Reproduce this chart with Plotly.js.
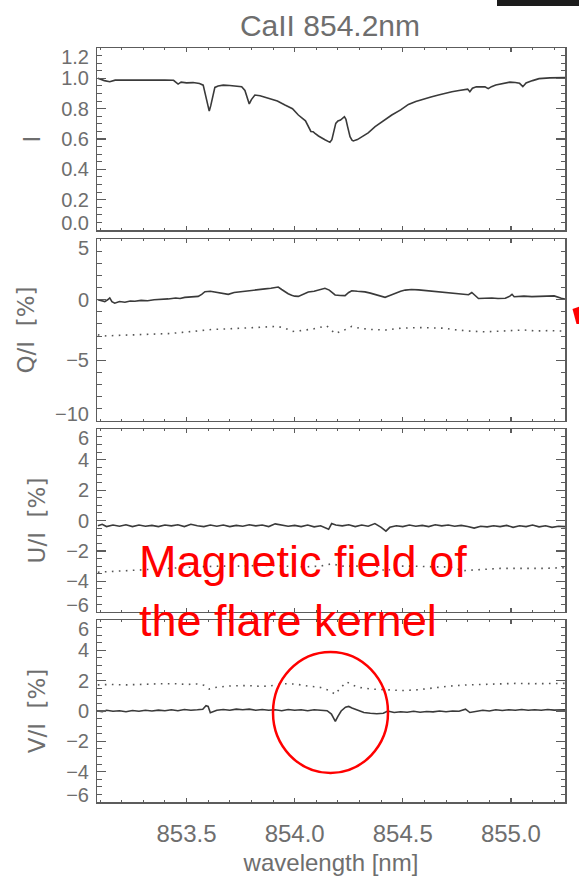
<!DOCTYPE html>
<html><head><meta charset="utf-8">
<script src="https://cdn.plot.ly/plotly-3.0.1.min.js"></script>
<style>html,body{margin:0;padding:0;background:#fff;}#chart{width:579px;height:883px;}</style>
</head><body><div id="chart"></div>
<script>
// ---------- data ----------
const lamI = [853.09,853.10,853.12,853.145,853.17,853.20,853.25,853.30,853.35,853.40,853.44,853.461,853.475,853.50,853.53,853.56,853.577,853.59,853.597,853.605,853.612,853.62,853.631,853.646,853.67,853.70,853.73,853.755,853.77,853.78,853.79,853.80,853.816,853.84,853.878,853.92,853.955,853.99,854.017,854.05,854.075,854.085,854.094,854.11,854.14,854.163,854.172,854.182,854.19,854.20,854.212,854.23,854.237,854.245,854.256,854.265,854.271,854.29,854.31,854.34,854.372,854.41,854.449,854.49,854.526,854.56,854.603,854.63,854.665,854.70,854.727,854.76,854.788,854.80,854.81,854.822,854.84,854.86,854.88,854.895,854.91,854.93,854.96,854.995,855.02,855.04,855.055,855.07,855.10,855.13,855.18,855.25];
const intensityI = [1.000,0.995,0.985,0.978,0.988,0.989,0.990,0.990,0.989,0.988,0.987,0.962,0.975,0.970,0.972,0.966,0.955,0.880,0.820,0.784,0.820,0.880,0.940,0.950,0.955,0.953,0.950,0.945,0.920,0.870,0.831,0.860,0.890,0.885,0.868,0.850,0.824,0.800,0.758,0.720,0.650,0.648,0.637,0.620,0.595,0.578,0.595,0.660,0.703,0.719,0.725,0.747,0.730,0.680,0.615,0.592,0.587,0.596,0.615,0.640,0.681,0.720,0.758,0.792,0.828,0.848,0.868,0.877,0.890,0.903,0.912,0.920,0.927,0.929,0.912,0.935,0.945,0.945,0.944,0.932,0.945,0.956,0.965,0.975,0.973,0.967,0.945,0.970,0.985,0.998,1.003,1.005];

const lamQ = [853.09,853.105,853.122,853.135,853.145,853.155,853.168,853.19,853.215,853.24,853.261,853.29,853.32,853.35,853.385,853.415,853.45,853.47,853.492,853.52,853.554,853.57,853.585,853.61,853.646,853.67,853.693,853.72,853.755,853.78,853.801,853.83,853.863,853.89,853.924,853.94,853.955,853.97,853.986,854.0,854.017,854.04,854.063,854.09,854.115,854.14,854.16,854.187,854.21,854.233,854.25,854.264,854.29,854.325,854.35,854.372,854.395,854.418,854.44,854.464,854.49,854.511,854.54,854.573,854.61,854.65,854.69,854.727,854.76,854.79,854.804,854.819,854.835,854.85,854.88,854.912,854.94,854.974,854.995,855.005,855.015,855.029,855.06,855.097,855.14,855.18,855.2,855.233,855.25];
const qSolid = [0.0,-0.05,-0.15,0.0,0.15,-0.15,-0.28,-0.15,-0.2,-0.1,-0.12,-0.05,-0.08,0.0,0.02,0.07,0.15,0.1,0.2,0.25,0.28,0.45,0.67,0.7,0.6,0.55,0.45,0.6,0.68,0.75,0.8,0.88,0.9,0.95,1.05,0.85,0.65,0.5,0.38,0.3,0.28,0.5,0.65,0.7,0.8,0.95,0.8,0.4,0.35,0.34,0.6,0.75,0.7,0.65,0.55,0.45,0.35,0.2,0.35,0.55,0.7,0.8,0.85,0.82,0.75,0.68,0.62,0.55,0.5,0.4,0.42,0.6,0.35,0.1,0.12,0.15,0.1,0.12,0.3,0.45,0.25,0.28,0.3,0.26,0.3,0.35,0.32,0.12,0.05];
const lamQd = [853.09,853.13,853.17,853.22,853.261,853.33,853.415,853.48,853.554,853.62,853.70,853.80,853.86,853.92,853.955,853.99,854.03,854.09,854.148,854.187,854.23,854.264,854.30,854.35,854.42,854.49,854.573,854.65,854.69,854.727,854.80,854.88,854.94,855.0,855.06,855.12,855.18,855.25];
const qDotted = [-2.9,-3.0,-2.95,-2.95,-2.9,-2.85,-2.8,-2.7,-2.58,-2.45,-2.4,-2.3,-2.22,-2.2,-2.35,-2.62,-2.55,-2.4,-2.15,-2.8,-2.5,-2.2,-2.35,-2.45,-2.5,-2.35,-2.3,-2.3,-2.35,-2.45,-2.58,-2.65,-2.6,-2.58,-2.5,-2.58,-2.55,-2.6];

const lamU = [853.09,853.11,853.13,853.16,853.19,853.22,853.25,853.28,853.31,853.34,853.37,853.40,853.43,853.46,853.49,853.52,853.55,853.58,853.61,853.64,853.67,853.70,853.73,853.76,853.79,853.82,853.85,853.88,853.91,853.94,853.97,854.00,854.03,854.06,854.09,854.12,854.157,854.171,854.19,854.22,854.25,854.28,854.31,854.34,854.371,854.40,854.422,854.44,854.47,854.50,854.53,854.56,854.59,854.62,854.65,854.68,854.71,854.74,854.77,854.80,854.83,854.86,854.89,854.92,854.95,854.98,855.01,855.04,855.07,855.10,855.13,855.16,855.19,855.22,855.25];
const uSolid = [-0.35,-0.25,-0.4,-0.3,-0.38,-0.28,-0.4,-0.3,-0.38,-0.32,-0.4,-0.3,-0.35,-0.28,-0.4,-0.25,-0.35,-0.4,-0.3,-0.38,-0.3,-0.4,-0.32,-0.38,-0.28,-0.35,-0.3,-0.4,-0.22,-0.3,-0.38,-0.32,-0.4,-0.3,-0.42,-0.35,-0.58,-0.2,-0.3,-0.35,-0.28,-0.4,-0.3,-0.38,-0.2,-0.45,-0.7,-0.45,-0.35,-0.4,-0.3,-0.38,-0.32,-0.4,-0.28,-0.35,-0.3,-0.38,-0.32,-0.4,-0.5,-0.38,-0.42,-0.35,-0.4,-0.32,-0.45,-0.35,-0.4,-0.3,-0.42,-0.35,-0.45,-0.38,-0.4];
const lamUd = [853.09,853.15,853.25,853.35,853.45,853.55,853.65,853.75,853.85,853.95,854.05,854.12,854.17,854.22,854.30,854.36,854.42,854.48,854.55,854.65,854.72,854.78,854.85,854.95,855.05,855.15,855.25];
const uDotted = [-3.4,-3.35,-3.3,-3.2,-3.1,-3.05,-3.0,-3.0,-2.95,-3.0,-3.05,-3.0,-2.85,-3.0,-3.0,-2.85,-3.35,-3.0,-3.0,-3.05,-3.05,-3.3,-3.25,-3.15,-3.15,-3.15,-3.1];

const lamV = [853.09,853.11,853.13,853.16,853.19,853.22,853.25,853.28,853.31,853.34,853.37,853.40,853.43,853.46,853.49,853.52,853.55,853.575,853.59,853.60,853.61,853.62,853.64,853.67,853.70,853.73,853.76,853.79,853.82,853.85,853.88,853.91,853.94,853.97,854.00,854.03,854.06,854.09,854.12,854.15,854.17,854.188,854.20,854.215,854.235,854.25,854.265,854.29,854.32,854.35,854.38,854.41,854.43,854.46,854.49,854.52,854.55,854.58,854.61,854.64,854.67,854.70,854.73,854.76,854.79,854.81,854.84,854.87,854.90,854.93,854.96,854.99,855.02,855.05,855.08,855.11,855.14,855.17,855.20,855.25];
const vSolid = [0.0,-0.05,0.05,-0.02,0.02,-0.05,0.03,-0.02,0.05,0.0,0.06,0.02,0.08,0.02,0.1,0.05,0.08,0.12,0.35,0.3,-0.12,-0.05,0.05,0.1,0.05,0.12,0.08,0.12,0.05,0.1,0.05,0.08,0.02,0.1,0.05,0.08,0.02,0.08,0.05,0.02,-0.2,-0.69,-0.35,0.0,0.25,0.3,0.2,0.05,-0.1,-0.15,-0.18,-0.15,0.0,-0.1,-0.05,-0.08,-0.02,-0.08,-0.03,-0.06,0.0,-0.05,0.0,-0.02,0.12,-0.1,0.0,0.05,0.0,0.08,0.03,0.08,0.05,0.1,0.05,0.08,0.05,0.1,0.06,0.08];
const lamVd = [853.09,853.15,853.22,853.30,853.38,853.45,853.50,853.55,853.58,853.605,853.63,853.70,853.78,853.85,853.90,853.95,854.00,854.06,854.12,854.16,854.188,854.21,854.24,854.27,854.30,854.35,854.42,854.50,854.57,854.65,854.72,854.80,854.88,854.95,855.02,855.10,855.18,855.25];
const vDotted = [1.72,1.75,1.72,1.78,1.8,1.8,1.75,1.78,1.7,1.45,1.55,1.65,1.68,1.62,1.68,1.8,1.78,1.65,1.55,1.35,1.1,1.5,1.92,1.7,1.55,1.45,1.4,1.35,1.4,1.55,1.65,1.72,1.75,1.8,1.82,1.8,1.82,1.82];

// axis ranges and tick labels
const xRange = [853.086, 855.25];
const xTickVals = [853.5, 854.0, 854.5, 855.0];
const xTickText = ['853.5', '854.0', '854.5', '855.0'];
const yRanges = [[0, 1.2], [-10, 5], [-6, 6], [-6, 6]];
const yTickVals = [[0, 0.2, 0.4, 0.6, 0.8, 1.0, 1.2], [-10, -5, 0, 5], [-6, -4, -2, 0, 2, 4, 6], [-6, -4, -2, 0, 2, 4, 6]];
const yTickText = [['0.0','0.2','0.4','0.6','0.8','1.0','1.2'], ['\u221210','\u22125','0','5'], ['\u22126','\u22124','\u22122','0','2','4','6'], ['\u22126','\u22124','\u22122','0','2','4','6']];
const yMajor = [0.2, 5, 2, 2];
const yMinor = [0.05, 1, 0.5, 0.5];
const yTitles = ['I', 'Q/I\u00a0\u00a0[%]', 'U/I\u00a0\u00a0[%]', 'V/I\u00a0\u00a0[%]'];

// ---------- layout geometry ----------
const W = 579, H = 883;
const M = {l: 97, r: 14, t: 48, b: 81};
const plotH = H - M.t - M.b, plotW = W - M.l - M.r;
const panelPx = [[48, 230], [239.3, 420.7], [429.3, 611.7], [620, 802]];
const domains = panelPx.map(([top, bot]) => [(H - M.b - bot) / plotH, (H - M.b - top) / plotH]);
const px2x = p => (p - M.l) / plotW;
const px2y = p => (H - M.b - p) / plotH;

const axisColor = '#5c5c5c';
const textColor = '#6e6e6e';
const fam = 'Liberation Sans, Arial, sans-serif';

// end labels are nudged inside the frame, as in the reference
function labelPos(vals, range, dom) {
  const ppu = (dom[1] - dom[0]) * plotH / (range[1] - range[0]);
  return vals.map(v => v >= range[1] - 1e-9 ? v - 9 / ppu : (v <= range[0] + 1e-9 ? v + 7 / ppu : v));
}

const layout = {
  width: W, height: H, margin: M,
  paper_bgcolor: '#fff', plot_bgcolor: 'rgba(0,0,0,0)', showlegend: false,
  title: {text: 'CaII 854.2nm', font: {family: fam, size: 30, color: textColor},
          x: px2x(330) , xref: 'paper', xanchor: 'center', y: 1 - 25 / H, yref: 'container', yanchor: 'middle'},
  annotations: [{
    xref: 'paper', yref: 'paper', x: px2x(137), y: px2y(534), xanchor: 'left', yanchor: 'top',
    text: 'Magnetic field of<br>the flare kernel', align: 'left', showarrow: false,
    font: {family: fam, size: 45, color: '#ff0000'}
  }],
  shapes: [
    {type: 'circle', xref: 'paper', yref: 'paper', x0: px2x(273), x1: px2x(388), y0: px2y(773), y1: px2y(652),
     line: {color: '#ff0000', width: 2.5}},
    {type: 'rect', xref: 'paper', yref: 'paper', x0: px2x(497), x1: px2x(582), y0: px2y(6), y1: px2y(-3),
     fillcolor: '#1c1c1c', line: {width: 0}},
    {type: 'path', xref: 'paper', yref: 'paper',
     path: `M ${px2x(572.5)} ${px2y(309)} L ${px2x(581)} ${px2y(306)} L ${px2x(581)} ${px2y(324)} L ${px2x(576.5)} ${px2y(324)} Z`,
     fillcolor: '#ff0000', line: {width: 0}}
  ]
};

const traces = [];
for (let i = 0; i < 4; i++) {
  const xs = i === 0 ? '' : String(i + 1);
  const ys = xs;
  layout['xaxis' + xs] = {
    domain: [0, 1], anchor: 'y' + ys, range: xRange,
    showline: true, linecolor: axisColor, linewidth: 1.5, mirror: 'ticks',
    ticks: 'inside', ticklen: 4, tickwidth: 1.2, tickcolor: axisColor,
    tickmode: 'array', tickvals: xTickVals, ticktext: xTickText,
    minor: {ticks: 'inside', dtick: 0.1, tick0: 853.5, ticklen: 2, tickwidth: 1, tickcolor: axisColor, showgrid: false},
    showgrid: false, zeroline: false, showticklabels: i === 3,
    tickfont: {family: fam, size: 24, color: textColor}, ticklabelstandoff: 10,
    title: i === 3 ? {text: 'wavelength [nm]', font: {family: fam, size: 24, color: textColor}, standoff: 8} : {text: ''}
  };
  layout['yaxis' + ys] = {
    domain: domains[i], anchor: 'x' + xs, range: yRanges[i],
    showline: true, linecolor: axisColor, linewidth: 1.5, mirror: 'ticks',
    ticks: 'inside', ticklen: 9, tickwidth: 1.2, tickcolor: axisColor,
    tick0: 0, dtick: yMajor[i],
    minor: {ticks: 'inside', dtick: yMinor[i], tick0: 0, ticklen: 4.5, tickwidth: 1, tickcolor: axisColor, showgrid: false},
    showgrid: false, zeroline: false, showticklabels: false
  };
  layout['yaxis' + (i + 5)] = {
    overlaying: 'y' + ys, anchor: 'x' + xs, side: 'left', range: yRanges[i],
    tickmode: 'array', tickvals: labelPos(yTickVals[i], yRanges[i], domains[i]), ticktext: yTickText[i],
    ticks: '', showline: false, showgrid: false, zeroline: false,
    tickfont: {family: fam, size: 20, color: textColor}, ticklabelstandoff: 7,
    title: {text: yTitles[i], font: {family: 'DejaVu Sans, sans-serif', size: 23, color: textColor}, standoff: 14}
  };
  // empty carrier trace so that the label axis is drawn
  traces.push({x: xRange, y: yRanges[i], xaxis: 'x' + xs, yaxis: 'y' + (i + 5), mode: 'none', hoverinfo: 'skip'});
}

const solid = {color: '#3a3a3a', width: 1.6};
const dotted = {color: '#555', width: 1.6, dash: '1.6px,5.4px'};
traces.push(
  {x: lamI, y: intensityI, xaxis: 'x', yaxis: 'y', mode: 'lines', line: solid},
  {x: lamQ, y: qSolid, xaxis: 'x2', yaxis: 'y2', mode: 'lines', line: solid},
  {x: lamQd, y: qDotted, xaxis: 'x2', yaxis: 'y2', mode: 'lines', line: dotted},
  {x: lamU, y: uSolid, xaxis: 'x3', yaxis: 'y3', mode: 'lines', line: solid},
  {x: lamUd, y: uDotted, xaxis: 'x3', yaxis: 'y3', mode: 'lines', line: dotted},
  {x: lamV, y: vSolid, xaxis: 'x4', yaxis: 'y4', mode: 'lines', line: solid},
  {x: lamVd, y: vDotted, xaxis: 'x4', yaxis: 'y4', mode: 'lines', line: dotted}
);

Plotly.newPlot('chart', traces, layout, {displayModeBar: false, staticPlot: true});
</script>
</body></html>
